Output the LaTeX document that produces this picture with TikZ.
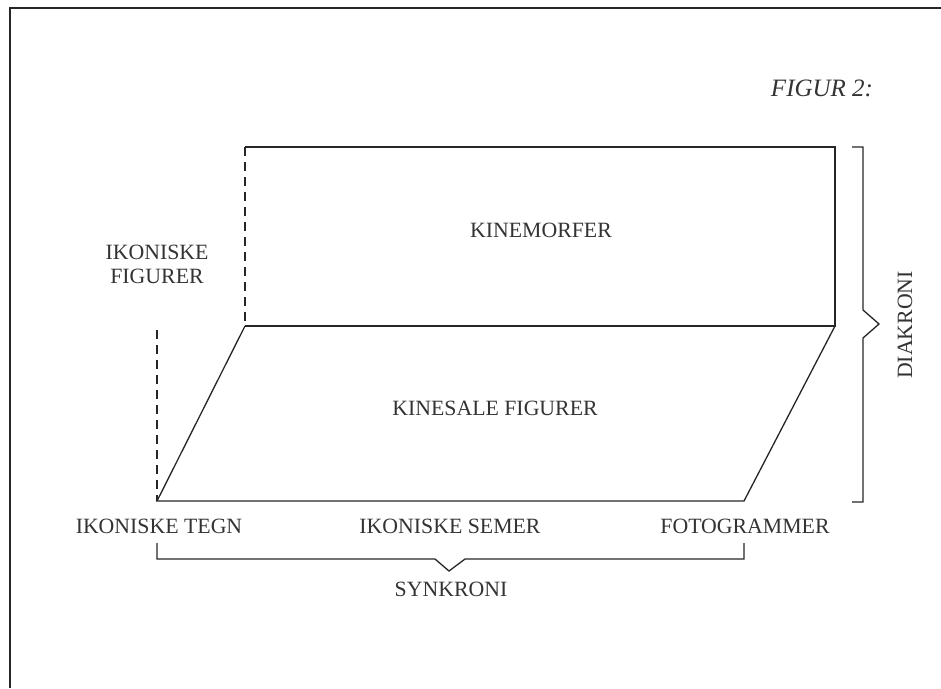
\documentclass[tikz,border=0pt]{standalone}
\usepackage{fontspec}
\setmainfont{Liberation Serif}
\begin{document}
\begin{tikzpicture}[x=1pt,y=-1pt,
  ink/.style={line width=1.3pt,draw=black!85},
  dashline/.style={ink,dash pattern=on 9pt off 6pt},
  lbl/.style={anchor=base,inner sep=0pt,text=black!80,font=\fontsize{21.8}{23.5}\selectfont},
  caption/.style={anchor=base,inner sep=0pt,text=black!80,font=\fontsize{25}{27}\selectfont\itshape}]
\useasboundingbox (0,0) rectangle (941,688);

% outer frame (left and top edges)
\draw[ink] (10,688) -- (10,8) -- (941,8);

% corners of the two planes
\coordinate (tl) at (245,147);
\coordinate (tr) at (835,147);
\coordinate (ml) at (245,326);
\coordinate (mr) at (835,326);
\coordinate (bl) at (157,501);
\coordinate (br) at (744,501);
\coordinate (dl) at (157,330);

% upper rectangle and parallelogram
\draw[ink] (tl) -- (tr) -- (mr) -- (ml);
\draw[dashline] (tl) -- (ml);
\draw[ink] (ml) -- (bl) -- (br) -- (mr);
\draw[dashline] (dl) -- (bl);

% texts
\node[caption] (fig) at (822,96) {FIGUR 2:};
\node[lbl] (kinem) at (541,237) {KINEMORFER};
\node[lbl] (kines) at (495,415) {KINESALE FIGURER};
\node[lbl,align=center] (ikfig) at (157,283) {IKONISKE\\FIGURER};
\node[lbl] (iktegn) at (159,533) {IKONISKE TEGN};
\node[lbl] (iksem) at (450,533) {IKONISKE SEMER};
\node[lbl] (foto) at (745,533) {FOTOGRAMMER};
\node[lbl] (synk) at (451,596) {SYNKRONI};
\node[lbl,rotate=90,anchor=center] (diak) at (905,325) {DIAKRONI};

% horizontal brace (synchrony)
\coordinate (sb1) at (157,543);
\coordinate (sb6) at (744,543);
\draw[ink] (sb1) -- (157,559) -- (435,559) -- (449,571) -- (465,559) -- (744,559) -- (sb6);

% vertical brace (diachrony)
\coordinate (db1) at (852,147);
\coordinate (db6) at (852,502);
\draw[ink] (db1) -- (863,147) -- (863,310) -- (879,324) -- (863,338) -- (863,502) -- (db6);
\end{tikzpicture}
\end{document}
